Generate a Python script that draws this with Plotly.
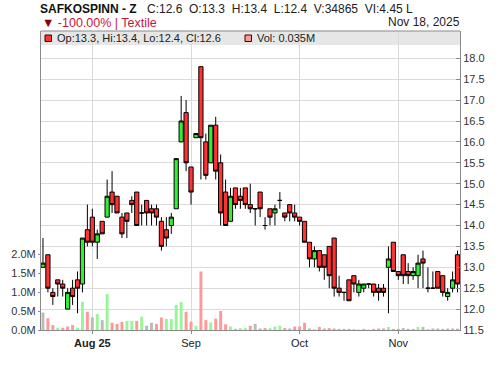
import plotly.graph_objects as go

# ---- data ----
opens = [13.0, 13.3, 12.4, 12.7, 12.6, 12.0, 12.5, 12.7, 12.6, 13.9,
         14.2, 13.6, 14.1, 14.2, 14.8, 14.7, 14.2, 14.3, 14.6, 14.8,
         14.3, 14.6, 14.4, 14.4, 14.1, 13.9, 14.0, 14.4, 16.0, 16.7,
         15.4, 16.1, 17.8, 16.0, 15.5, 16.4, 15.5, 14.8, 14.1, 14.9,
         14.7, 14.9, 14.5, 14.4, 14.8, 14.0, 14.4, 14.3, 14.6, 14.3,
         14.5, 14.3, 14.2, 14.1, 13.6, 13.2, 13.4, 13.3, 13.5, 13.7,
         12.5, 12.4, 12.7, 12.8, 12.4, 12.5, 12.6, 12.6, 12.5, 12.5,
         13.0, 13.6, 12.9, 13.3, 12.9, 12.8, 12.8, 13.2, 12.5, 12.5,
         12.9, 12.8, 12.3, 12.5, 13.3]
highs = [13.7, 13.3, 12.5, 12.7, 12.7, 12.5, 12.7, 12.9, 13.7, 14.5,
         14.4, 13.9, 14.1, 15.1, 15.3, 14.7, 14.3, 14.3, 14.7, 14.8,
         14.5, 14.6, 14.5, 14.5, 14.2, 14.2, 14.3, 15.6, 17.1, 17.0,
         15.4, 16.2, 17.8, 16.2, 16.4, 16.6, 15.7, 15.1, 14.9, 14.9,
         14.9, 14.9, 15.0, 14.4, 14.8, 14.2, 14.4, 14.5, 14.8, 14.3,
         14.5, 14.5, 14.2, 14.1, 13.6, 13.5, 13.4, 13.3, 13.5, 13.7,
         12.8, 12.4, 12.7, 12.8, 12.7, 12.6, 12.6, 12.6, 12.6, 12.6,
         13.5, 13.6, 12.9, 13.3, 13.1, 13.0, 13.3, 13.4, 13.0, 12.9,
         12.9, 12.8, 12.5, 12.9, 13.4]
lows = [13.0, 12.4, 12.1, 12.3, 12.3, 12.0, 12.1, 11.9, 12.4, 13.5,
        13.5, 13.2, 13.8, 14.2, 14.3, 14.3, 13.7, 13.7, 14.3, 14.0,
        14.0, 14.0, 14.0, 14.0, 13.4, 13.5, 13.8, 14.4, 16.0, 15.3,
        14.5, 16.1, 15.1, 15.1, 15.5, 15.1, 14.0, 14.0, 14.1, 14.4,
        14.4, 14.4, 14.3, 14.0, 14.2, 13.9, 14.0, 14.0, 14.4, 14.1,
        14.1, 14.1, 14.0, 13.6, 13.0, 13.0, 12.9, 12.7, 12.5, 12.3,
        12.3, 12.2, 12.2, 12.4, 12.3, 12.4, 12.5, 12.3, 12.2, 12.3,
        11.9, 12.9, 12.7, 12.6, 12.6, 12.7, 12.5, 12.5, 12.4, 12.5,
        12.5, 12.3, 12.2, 12.4, 12.4]
closes = [13.1, 12.5, 12.3, 12.6, 12.5, 12.4, 12.3, 12.5, 13.7, 13.6,
          13.6, 13.8, 13.8, 14.7, 14.5, 14.3, 13.8, 14.1, 14.5, 14.0,
          14.3, 14.3, 14.3, 14.2, 13.5, 13.7, 14.2, 15.6, 16.5, 15.5,
          14.8, 16.2, 16.1, 15.2, 16.4, 15.3, 14.3, 14.0, 14.7, 14.5,
          14.6, 14.5, 14.4, 14.4, 14.4, 14.0, 14.2, 14.4, 14.6, 14.2,
          14.3, 14.2, 14.1, 13.6, 13.2, 13.4, 13.0, 13.0, 12.8, 12.5,
          12.4, 12.4, 12.2, 12.6, 12.6, 12.6, 12.6, 12.4, 12.4, 12.4,
          13.2, 12.9, 12.8, 12.8, 12.8, 12.9, 13.1, 13.1, 12.5, 12.5,
          12.5, 12.4, 12.4, 12.7, 12.6]
volumes_m = [0.46, 0.31, 0.13, 0.06, 0.06, 0.09, 0.13, 0.06, 0.74, 0.48,
             0.33, 0.42, 0.26, 0.95, 0.19, 0.16, 0.21, 0.24, 0.24, 0.24,
             0.35, 0.11, 0.19, 0.16, 0.33, 0.29, 0.29, 0.66, 0.74, 0.48,
             0.22, 0.11, 1.54, 0.26, 0.20, 0.30, 0.50, 0.15, 0.09, 0.03,
             0.05, 0.05, 0.11, 0.16, 0.04, 0.05, 0.05, 0.09, 0.11, 0.05,
             0.04, 0.09, 0.09, 0.19, 0.04, 0.02, 0.08, 0.04, 0.05, 0.04,
             0.03, 0.03, 0.03, 0.03, 0.01, 0.03, 0.01, 0.03, 0.04, 0.04,
             0.08, 0.03, 0.03, 0.05, 0.03, 0.03, 0.08, 0.08, 0.02, 0.04,
             0.04, 0.03, 0.04, 0.04, 0.035]
# volume bar direction as seen in the picture: u = up, d = down, n = unchanged
vol_dir = ['n', 'd', 'd', 'u', 'd', 'd', 'd', 'u', 'u', 'd',
           'n', 'u', 'n', 'u', 'd', 'd', 'd', 'u', 'u', 'd',
           'u', 'n', 'n', 'd', 'd', 'u', 'u', 'u', 'u', 'd',
           'd', 'u', 'd', 'd', 'u', 'd', 'd', 'd', 'u', 'n',
           'u', 'u', 'd', 'n', 'n', 'd', 'u', 'u', 'u', 'd',
           'n', 'd', 'd', 'd', 'n', 'u', 'd', 'n', 'd', 'd',
           'n', 'n', 'd', 'u', 'n', 'n', 'n', 'd', 'n', 'd',
           'u', 'd', 'd', 'n', 'd', 'n', 'u', 'n', 'n', 'n',
           'n', 'd', 'n', 'n', 'd']
month_tick_index = [10, 30, 52, 72]
month_tick_text = ['<b>Aug 25</b>', 'Sep', 'Oct', 'Nov']
price_ticks = [11.5, 12.0, 12.5, 13.0, 13.5, 14.0, 14.5, 15.0, 15.5, 16.0, 16.5, 17.0, 17.5, 18.0]
vol_ticks = [0.0, 0.5, 1.0, 1.5, 2.0]
vol_tick_text = ['0.0M', '0.5M', '1.0M', '1.5M', '2.0M']

symbol = 'SAFKOSPINN - Z'
quote_line = 'C:12.6\u00a0\u00a0O:13.3\u00a0\u00a0H:13.4\u00a0\u00a0L:12.4\u00a0\u00a0V:34865\u00a0\u00a0VI:4.45 L'
change_text = '-100.00% | Textile'
date_text = 'Nov 18, 2025'
last_vol_text = 'Vol: 0.035M'

# ---- styling ----
FONT = 'Liberation Sans, Arial, sans-serif'
UP = '#33ee33'
DOWN = '#ff3333'
VCOL = {'u': '#99f599', 'd': '#ff9999', 'n': '#bbbbbb'}
GRID = '#dadada'
AXIS = '#8a8a8a'

x = list(range(len(opens)))

fig = go.Figure()
fig.add_trace(go.Bar(
    x=x, y=volumes_m, yaxis='y',
    marker=dict(color=[VCOL[d] for d in vol_dir], line=dict(width=0)),
    hoverinfo='skip', showlegend=False,
))
fig.add_trace(go.Candlestick(
    x=x, open=opens, high=highs, low=lows, close=closes, yaxis='y2',
    increasing=dict(fillcolor=UP, line=dict(color='black', width=1)),
    decreasing=dict(fillcolor=DOWN, line=dict(color='black', width=1)),
    whiskerwidth=0, hoverinfo='skip', showlegend=False,
))

W, H = 500, 366
L, R, T, B = 41, 40, 31, 36
pw, ph = W - L - R, H - T - B

def px(xp):
    return (xp - L) / pw

def py(yp):
    return (H - B - yp) / ph

price_per_px = 6.5 / (330 - 58.3)
vol_per_px = 0.5 / 19.0

fig.update_layout(
    width=W, height=H,
    margin=dict(l=L, r=R, t=T, b=B, pad=0),
    paper_bgcolor='white', plot_bgcolor='white',
    font=dict(family=FONT, size=11, color='#222'),
    showlegend=False,
    bargap=0.4,
    boxgap=0.1, boxgroupgap=0.05,
    xaxis=dict(
        range=[-0.4, 84.5], tickmode='array', tickvals=month_tick_index, ticktext=month_tick_text,
        showgrid=True, gridcolor=GRID, gridwidth=1, zeroline=False,
        showline=True, linecolor=AXIS, linewidth=1,
        ticks='outside', ticklen=3, tickcolor=AXIS,
        tickfont=dict(size=11, color='#222'),
        rangeslider=dict(visible=False), fixedrange=True,
    ),
    yaxis=dict(
        side='left', range=[0, ph * vol_per_px],
        tickmode='array', tickvals=vol_ticks, ticktext=vol_tick_text,
        showgrid=False, zeroline=False,
        showline=True, linecolor=AXIS, linewidth=1,
        ticks='outside', ticklen=2, tickcolor=AXIS,
        tickfont=dict(size=11, color='#333'), fixedrange=True,
    ),
    yaxis2=dict(
        side='right', overlaying='y', range=[11.5, 11.5 + ph * price_per_px],
        tickmode='array', tickvals=price_ticks, tickformat='.1f',
        showgrid=True, gridcolor=GRID, gridwidth=1, zeroline=False,
        showline=True, linecolor=AXIS, linewidth=1,
        ticks='inside', ticklen=4, tickcolor=AXIS,
        tickfont=dict(size=11, color='#333'), fixedrange=True,
    ),
)

shapes = [
    # legend band
    dict(type='rect', xref='paper', yref='paper', x0=0, x1=1, y0=py(45), y1=1,
         fillcolor='#e6e6e6', line=dict(width=0), layer='below'),
    dict(type='line', xref='paper', yref='paper', x0=0, x1=1, y0=1, y1=1,
         line=dict(color=AXIS, width=1)),
    # legend swatches
    dict(type='rect', xref='paper', yref='paper', x0=px(45), x1=px(51.5), y0=py(41.5), y1=py(35),
         fillcolor=DOWN, line=dict(color='#3a0000', width=1)),
    dict(type='rect', xref='paper', yref='paper', x0=px(245), x1=px(251.5), y0=py(41.5), y1=py(35),
         fillcolor='#ff9999', line=dict(color='#3a0000', width=1)),
]

ann_common = dict(xref='paper', yref='paper', showarrow=False, borderpad=0, borderwidth=0)
annotations = [
    dict(x=px(40), y=py(9), xanchor='left', yanchor='middle',
         text='<b>' + symbol + '</b>', font=dict(size=12, color='#111', family=FONT), **ann_common),
    dict(x=px(147), y=py(9), xanchor='left', yanchor='middle',
         text=quote_line, font=dict(size=12, color='#222', family=FONT), **ann_common),
    dict(x=px(42), y=py(23.5), xanchor='left', yanchor='middle',
         text='<span style="color:#8b0000">\u25bc</span> ' + change_text,
         font=dict(size=12.5, color='#c8143c', family=FONT), **ann_common),
    dict(x=1, y=py(22.5), xanchor='right', yanchor='middle',
         text=date_text, font=dict(size=12, color='#222', family=FONT), **ann_common),
    dict(x=px(57), y=py(38.5), xanchor='left', yanchor='middle',
         text=f'Op:{opens[-1]}, Hi:{highs[-1]}, Lo:{lows[-1]}, Cl:{closes[-1]}',
         font=dict(size=11, color='#222', family=FONT), **ann_common),
    dict(x=px(257), y=py(38.5), xanchor='left', yanchor='middle',
         text=last_vol_text, font=dict(size=11, color='#222', family=FONT), **ann_common),
]

fig.update_layout(shapes=shapes, annotations=annotations)
fig.write_html('out.html', config={'staticPlot': True})
